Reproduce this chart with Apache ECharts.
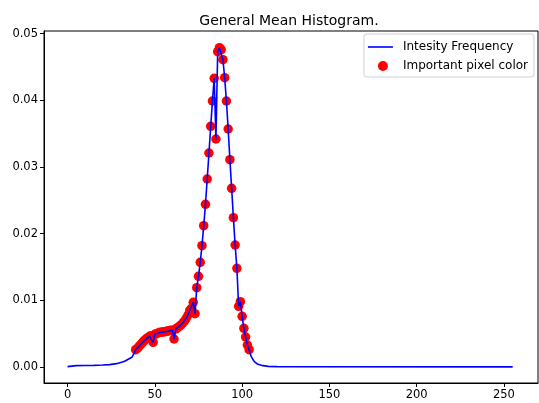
<!DOCTYPE html>
<html>
<head>
<meta charset="utf-8">
<script src="https://cdn.jsdelivr.net/npm/echarts@6/dist/echarts.min.js"></script>
<style>
  html, body { margin: 0; padding: 0; background: #fff; }
  #chart { width: 539px; height: 403px; }
</style>
</head>
<body>
<div id="chart"></div>
<script>
// histogram before the important range (no markers)
const tailBins = [0, 1, 5, 10, 15, 20, 24, 28, 31, 33, 34, 35, 36, 37, 38];
const tailFreq = [0.00005, 0.0002, 0.0002, 0.00022, 0.00025, 0.0003, 0.00035, 0.0005, 0.0007, 0.0009, 0.001, 0.0012, 0.0011, 0.0015, 0.002];

// bins marked as important pixel colours
const importantBins = [39, 40, 41, 42, 43, 44, 45, 46, 47, 48, 49, 50, 51, 52, 53, 54, 55, 56, 57, 58,
  59, 60, 61, 62, 63, 64, 65, 66, 67, 68, 69, 70, 71, 72, 73, 74, 75, 76, 77, 78,
  79, 80, 81, 82, 83, 84, 85, 86, 87, 88, 89, 90, 91, 92, 93, 94, 95, 96, 97, 98,
  99, 100, 101, 102, 103, 104];
const importantFreq = [0.0026, 0.0028, 0.0031, 0.0034, 0.0037, 0.004, 0.0042, 0.0044, 0.0046, 0.0047,
  0.0037, 0.0049, 0.005, 0.0051, 0.0052, 0.0052, 0.0053, 0.0053, 0.0054, 0.0054,
  0.0055, 0.0055, 0.0042, 0.0057, 0.0059, 0.0061, 0.0063, 0.0066, 0.0069, 0.0073,
  0.0078, 0.0085, 0.0088, 0.0097, 0.008, 0.0119, 0.0136, 0.0157, 0.0182, 0.0212,
  0.0244, 0.0282, 0.0321, 0.0361, 0.0399, 0.0433, 0.0342, 0.0473, 0.0479, 0.0476,
  0.0461, 0.0434, 0.0399, 0.0357, 0.0311, 0.0268, 0.0224, 0.0183, 0.0148, 0.0091,
  0.0098, 0.0076, 0.0058, 0.0045, 0.0033, 0.0026];

// histogram after the important range
const fadeBins = [105, 106, 107, 108, 109, 110, 112, 115, 120, 130, 255];
const fadeFreq = [0.0017, 0.0012, 0.0008, 0.0006, 0.0004, 0.0003, 0.0002, 0.0001, 0.00006, 0.00003, 0.00002];

const xTicks = [0, 50, 100, 150, 200, 250];
const yTicks = [0, 0.01, 0.02, 0.03, 0.04, 0.05];

const zip = (xs, ys) => xs.map((x, i) => [x, ys[i]]);
const lineData = zip(tailBins, tailFreq).concat(zip(importantBins, importantFreq), zip(fadeBins, fadeFreq));
const dotData = zip(importantBins, importantFreq);

const chart = echarts.init(document.getElementById('chart'), null, { renderer: 'canvas' });
const font = 'DejaVu Sans';

// legend sample for the line: a 25px bar inside a 30x10 box
const lineIcon = 'path://M0,0L0,0M0,4.2L25,4.2L25,5.8L0,5.8ZM30,10L30,10';

chart.setOption({
  animation: false,
  title: {
    text: 'General Mean Histogram.',
    left: 284,
    textAlign: 'center',
    top: 9,
    textStyle: { fontFamily: font, fontSize: 14, fontWeight: 'normal', color: '#000' }
  },
  legend: {
    orient: 'vertical',
    right: 5,
    top: 34,
    padding: [6, 6, 4, 4],
    itemGap: 5,
    itemWidth: 30,
    itemHeight: 10,
    borderColor: '#d0d0d0',
    borderWidth: 1,
    borderRadius: 3,
    backgroundColor: '#fff',
    textStyle: { fontFamily: font, fontSize: 12, color: '#000', lineHeight: 14 },
    data: [
      { name: 'Intesity Frequency', icon: lineIcon },
      { name: 'Important pixel color' }
    ]
  },
  grid: {
    left: 44, right: 1, top: 31, bottom: 20,
    show: true, borderColor: '#000', borderWidth: 1,
    outerBoundsMode: 'none'
  },
  xAxis: {
    type: 'value',
    min: -13.5,
    max: 269.5,
    splitLine: { show: false },
    axisLine: { show: true, onZero: false, lineStyle: { color: '#000', width: 1 } },
    axisTick: { show: true, length: 4, customValues: xTicks, lineStyle: { color: '#000' } },
    axisLabel: { customValues: xTicks, color: '#000', fontFamily: font, fontSize: 11.5, margin: 6 }
  },
  yAxis: {
    type: 'value',
    min: -0.0024,
    max: 0.0504,
    splitLine: { show: false },
    axisLine: { show: true, onZero: false, lineStyle: { color: '#000', width: 1 } },
    axisTick: { show: true, length: 4, customValues: yTicks, lineStyle: { color: '#000' } },
    axisLabel: {
      customValues: yTicks, color: '#000', fontFamily: font, fontSize: 11.5, margin: 6,
      formatter: v => v.toFixed(2)
    }
  },
  series: [
    {
      name: 'Intesity Frequency',
      type: 'line',
      data: lineData,
      symbol: 'none',
      lineStyle: { color: '#0000ff', width: 1.6 },
      itemStyle: { color: '#0000ff' }
    },
    {
      name: 'Important pixel color',
      type: 'scatter',
      data: dotData,
      symbol: 'circle',
      symbolSize: 9.5,
      itemStyle: { color: '#ff0000', opacity: 1 }
    }
  ]
});
</script>
</body>
</html>
